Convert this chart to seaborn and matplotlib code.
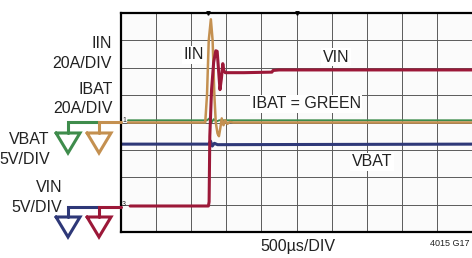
import matplotlib
matplotlib.use("Agg")
import matplotlib.pyplot as plt
from matplotlib.lines import Line2D
import seaborn as sns

# Scope traces, in screen divisions (x: 500us/DIV, y: 8 divisions high)
vin_t = [0.26, 2.49, 2.51, 2.53, 2.58, 2.64, 2.70, 2.74, 2.78, 2.82, 2.86, 2.90, 2.93, 2.97, 3.50, 4.30, 4.33, 4.50, 10.0]
vin_v = [0.95, 0.95, 1.10, 3.50, 5.20, 6.20, 6.62, 6.60, 5.90, 5.20, 5.60, 6.15, 5.90, 5.82, 5.82, 5.84, 5.90, 5.92, 5.92]

iin_t = [0.20, 2.40, 2.45, 2.50, 2.56, 2.61, 2.66, 2.70, 2.75, 2.79, 2.83, 2.87, 2.92, 2.97, 3.03, 3.10, 3.20, 10.0]
iin_v = [4.00, 4.00, 5.00, 7.00, 7.77, 7.00, 5.00, 4.00, 3.60, 3.50, 3.80, 4.15, 3.90, 4.08, 3.95, 4.02, 4.00, 4.00]

ibat_t = [0.20, 2.45, 2.52, 2.58, 2.64, 2.72, 2.80, 10.0]
ibat_v = [4.08, 4.08, 4.15, 4.00, 4.12, 4.04, 4.08, 4.08]

vbat_t = [0.00, 2.50, 2.55, 2.60, 2.66, 2.75, 10.0]
vbat_v = [3.21, 3.21, 3.32, 3.14, 3.24, 3.19, 3.21]

W, H = 472, 258
red, tan, green, blue = "#9c1838", "#c49050", "#3f8c4c", "#2e3878"
txt = "#222222"

sns.set_style("white")
plt.rcParams["font.family"] = ["Liberation Sans", "DejaVu Sans"]

fig = plt.figure(figsize=(W / 100, H / 100), dpi=100)
fig.patch.set_facecolor("white")
ax = fig.add_axes([121 / W, 1 - 232 / H, (W - 121) / W, (232 - 13) / H])
ax.set_facecolor("#fbfbfb")
ax.set_xlim(0, 10)
ax.set_ylim(0, 8)
ax.set_xticks(range(11))
ax.set_yticks(range(9))
ax.grid(True, color="#5a5a5a", lw=0.7)
ax.tick_params(length=0, labelbottom=False, labelleft=False)
for s in ["left", "top", "bottom"]:
    ax.spines[s].set_color("black")
    ax.spines[s].set_linewidth(1.6)
ax.spines["right"].set_visible(False)

sns.lineplot(x=vbat_t, y=vbat_v, ax=ax, color=blue, lw=2.2, sort=False, estimator=None)
sns.lineplot(x=ibat_t, y=ibat_v, ax=ax, color=green, lw=1.4, sort=False, estimator=None)
sns.lineplot(x=iin_t, y=iin_v, ax=ax, color=tan, lw=1.8, sort=False, estimator=None)
sns.lineplot(x=vin_t, y=vin_v, ax=ax, color=red, lw=2.2, sort=False, estimator=None)

# trigger markers
for xm in [2.48, 5.0]:
    ax.plot(xm, 8, marker="v", color="black", ms=2.5, clip_on=False)


def P(x, y):
    return x / W, 1 - y / H


def fig_line(xs, ys, color, lw=2.2):
    fx = [x / W for x in xs]
    fy = [1 - y / H for y in ys]
    fig.add_artist(Line2D(fx, fy, color=color, lw=lw, transform=fig.transFigure, solid_joinstyle="miter"))


def ground(cx, top, color):
    fig_line([cx - 12, cx + 12, cx, cx - 12], [top, top, top + 20, top], color)


# channel 1/2 ground symbols
fig_line([68, 68, 99], [133, 122, 122], green)
fig_line([99, 99, 121], [133, 122, 122], tan)
ground(68, 133, green)
ground(99, 133, tan)
# channel 3/4 ground symbols
fig_line([68, 68, 99], [217, 207, 207], blue)
fig_line([99, 99, 121], [217, 207, 207], red)
ground(68, 217, blue)
ground(99, 217, red)

fs = 11.5
left_labels = [("IIN", 112, 43), ("20A/DIV", 112, 64), ("IBAT", 113, 89), ("20A/DIV", 113, 108),
               ("VBAT", 49, 140), ("5V/DIV", 50, 160), ("VIN", 62, 187), ("5V/DIV", 62, 207)]
for s, x, y in left_labels:
    fig.text(*P(x, y), s, ha="right", va="center", fontsize=fs, color=txt)

box = dict(facecolor="white", edgecolor="none", pad=1.0)
for s, x, y in [("IIN", 194, 55), ("VIN", 336, 57), ("IBAT = GREEN", 306, 104), ("VBAT", 372, 162)]:
    fig.text(*P(x, y), s, ha="center", va="center", fontsize=fs, color=txt, bbox=box)

fig.text(*P(298, 246), "500µs/DIV", ha="center", va="center", fontsize=fs, color=txt)
fig.text(*P(470, 244), "4015 G17", ha="right", va="center", fontsize=6.5, color=txt)
fig.text(*P(124, 121), "1", ha="center", va="center", fontsize=5, color=txt)
fig.text(*P(124, 205), "3", ha="center", va="center", fontsize=5, color=txt)

fig.savefig("out.png", dpi=100)
